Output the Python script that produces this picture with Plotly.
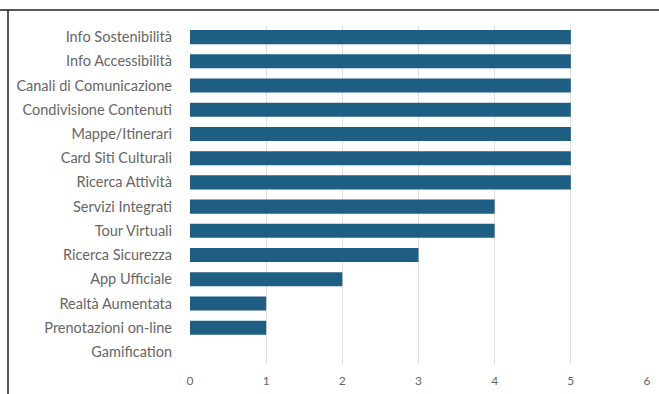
import plotly.graph_objects as go

categories = ["Info Sostenibilità", "Info Accessibilità", "Canali di Comunicazione",
              "Condivisione Contenuti", "Mappe/Itinerari", "Card Siti Culturali",
              "Ricerca Attività", "Servizi Integrati", "Tour Virtuali",
              "Ricerca Sicurezza", "App Ufficiale", "Realtà Aumentata",
              "Prenotazioni on-line", "Gamification"]
values = [5, 5, 5, 5, 5, 5, 5, 4, 4, 3, 2, 1, 1, 0]
x_ticks = [0, 1, 2, 3, 4, 5, 6]

fig = go.Figure(go.Bar(
    x=values, y=categories, orientation="h",
    marker=dict(color="#1d5e82", line=dict(width=0)),
))

W, H = 659, 394
L, R, T, B = 190, 12, 25, 30
pw, ph = W - L - R, H - T - B

fig.update_layout(
    width=W, height=H,
    margin=dict(l=L, r=R, t=T, b=B, autoexpand=False),
    paper_bgcolor="white", plot_bgcolor="white",
    bargap=0.42,
    showlegend=False,
    font=dict(family="Lato, Open Sans, sans-serif", size=12, color="#595959"),
    xaxis=dict(range=[0, 6], tickvals=x_ticks, showgrid=True, gridcolor="#e0e0e0",
               gridwidth=1, zeroline=False, showline=False, ticks="",
               tickfont=dict(size=12, color="#666666"), ticklabelstandoff=8),
    yaxis=dict(autorange="reversed", showgrid=False, zeroline=False, showline=False,
               ticks="", ticklabelstandoff=17, tickfont=dict(size=14.5, color="#666666")),
    shapes=[
        dict(type="line", xref="paper", yref="paper", x0=-L / pw, x1=(W - L) / pw,
             y0=1 + (T - 10) / ph, y1=1 + (T - 10) / ph, line=dict(color="#222222", width=1.5)),
        dict(type="line", xref="paper", yref="paper", x0=-(L - 8) / pw, x1=-(L - 8) / pw,
             y0=-B / ph, y1=1 + (T - 10) / ph, line=dict(color="#222222", width=1.5)),
    ],
)

fig.write_html("out.html", config={"displayModeBar": False},
               post_script="document.body.style.margin='0';")
